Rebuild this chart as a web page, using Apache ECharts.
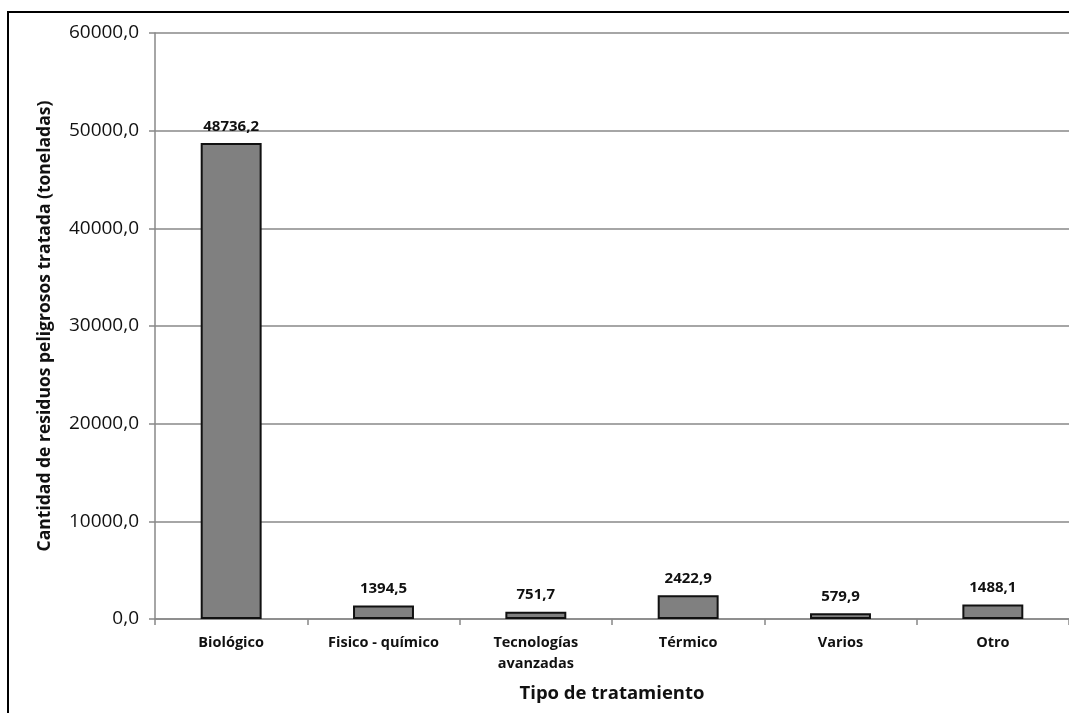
<!DOCTYPE html>
<html>
<head>
<meta charset="utf-8">
<script src="https://cdn.jsdelivr.net/npm/echarts@6/dist/echarts.min.js"></script>
<style>
  html, body { margin: 0; padding: 0; background: #fff; }
  #chart { width: 1069px; height: 713px; }
</style>
</head>
<body>
<div id="chart"></div>
<script>
// Treated hazardous waste by treatment type (tonnes)
const categories = ['Biológico', 'Fisico - químico', 'Tecnologías\navanzadas', 'Térmico', 'Varios', 'Otro'];
const values = [48736.2, 1394.5, 751.7, 2422.9, 579.9, 1488.1];
const yTicks = [0, 10000, 20000, 30000, 40000, 50000, 60000];

const fmt = v => v.toFixed(1).replace('.', ',');
const FONT = '"Open Sans", "Liberation Sans", sans-serif';

const chart = echarts.init(document.getElementById('chart'));
chart.setOption({
  animation: false,
  backgroundColor: '#ffffff',
  graphic: [{
    type: 'rect',
    shape: { x: 8, y: 12, width: 1120, height: 760 },
    style: { fill: 'none', stroke: '#000', lineWidth: 2 },
    silent: true
  }],
  grid: { left: 155, right: -4, top: 33, bottom: 94 },
  xAxis: {
    type: 'category',
    data: categories,
    name: 'Tipo de tratamiento',
    nameLocation: 'middle',
    nameGap: 65,
    nameTextStyle: { fontFamily: FONT, fontWeight: 'bold', fontSize: 18.5, color: '#111' },
    axisLine: { lineStyle: { color: '#888', width: 1.5 } },
    axisTick: { show: true, length: 6, lineStyle: { color: '#888', width: 1.5 } },
    axisLabel: {
      fontFamily: FONT, fontWeight: 'bold', fontSize: 14.5, color: '#111',
      margin: 13, lineHeight: 21
    }
  },
  yAxis: {
    type: 'value',
    min: yTicks[0],
    max: yTicks[yTicks.length - 1],
    interval: yTicks[1] - yTicks[0],
    name: 'Cantidad de residuos peligrosos tratada (toneladas)',
    nameLocation: 'middle',
    nameGap: 101,
    nameTextStyle: { fontFamily: FONT, fontWeight: 'bold', fontSize: 17.5, color: '#111' },
    axisLine: { show: true, lineStyle: { color: '#888', width: 1.5 } },
    axisTick: { show: true, length: 6, lineStyle: { color: '#888', width: 1.5 } },
    axisLabel: {
      fontFamily: FONT, fontSize: 19, color: '#111', margin: 16,
      formatter: v => fmt(v)
    },
    splitLine: { lineStyle: { color: '#888', width: 1.5 } }
  },
  series: [{
    type: 'bar',
    data: values,
    barWidth: '40%',
    itemStyle: { color: '#808080', borderColor: '#111', borderWidth: 2 },
    label: {
      show: true, position: 'top', distance: 9,
      fontFamily: FONT, fontWeight: 'bold', fontSize: 15, color: '#111',
      formatter: p => fmt(p.value)
    }
  }]
});
</script>
</body>
</html>
